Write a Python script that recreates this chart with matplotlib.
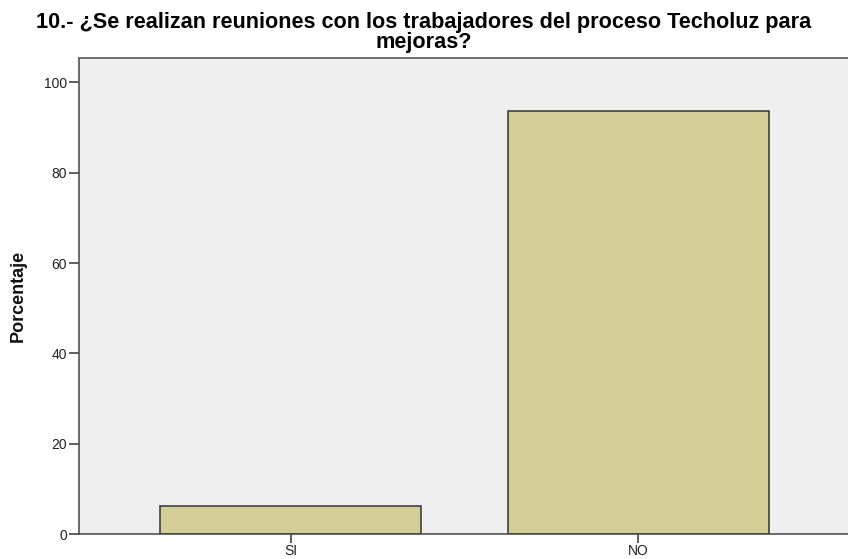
import matplotlib
matplotlib.use("Agg")
import matplotlib.pyplot as plt

categories = ["SI", "NO"]
values = [6.25, 93.75]
yticks = [0, 20, 40, 60, 80, 100]
title = "10.- ¿Se realizan reuniones con los trabajadores del proceso Techoluz para\nmejoras?"
ylabel = "Porcentaje"

W, H = 848, 559
fig = plt.figure(figsize=(W/100, H/100), dpi=100)
ax = fig.add_axes([79/W, 1-534/H, 1-79/W, (534-58)/H])
ax.set_facecolor("#efefef")
x = list(range(len(categories)))
ax.bar(x, values, width=0.751, color="#d3ce98", edgecolor="#333333", linewidth=1.1, zorder=2)
ax.set_xlim(-0.61, 1.603)
ax.set_ylim(0, 105.4)
ax.set_xticks(x)
ax.set_xticklabels(categories, fontsize=10, family="Liberation Sans", color="#222222")
ax.set_yticks(yticks)
ax.set_yticklabels([str(t) for t in yticks], fontsize=10, family="Liberation Sans", color="#222222")
ax.tick_params(axis="y", length=7.5, width=1.1, color="#333333", pad=1)
ax.tick_params(axis="x", length=6.5, width=1.1, color="#333333", pad=1)
for s in ["left", "bottom"]:
    ax.spines[s].set_color("#444444")
    ax.spines[s].set_linewidth(1.1)
ax.spines["top"].set_color("#666666")
ax.spines["top"].set_linewidth(1.3)
ax.spines["right"].set_visible(False)
fig.text(18/W, 1-296/H, ylabel, rotation=90, ha="center", va="center",
         fontsize=13, fontweight="bold", family="Liberation Sans", color="#111111")
lines = title.split("\n")
baselines = [28, 48]
for ln, b in zip(lines, baselines):
    fig.text(0.5, 1-b/H, ln, ha="center", va="baseline", fontsize=15.6, fontweight="bold",
             family="Liberation Sans", color="#000000")
fig.savefig("out.png", dpi=100)
